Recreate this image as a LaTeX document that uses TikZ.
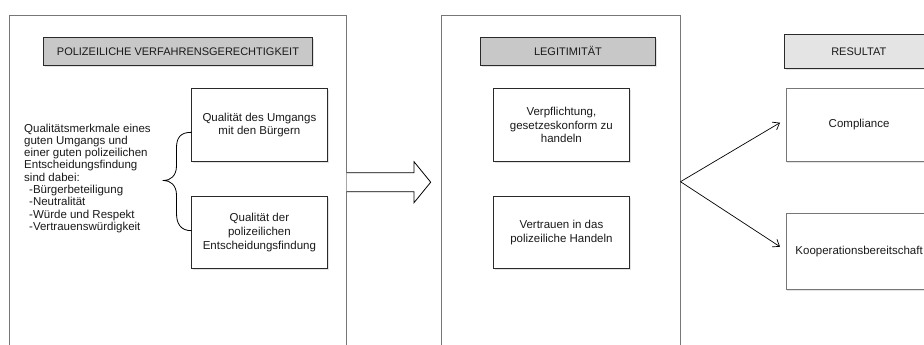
\documentclass[tikz,border=0pt]{standalone}
\usepackage{fontspec}
\setmainfont{Liberation Sans}
\usetikzlibrary{shadows,decorations.pathreplacing,arrows.meta}
\definecolor{panelc}{HTML}{777777}
\definecolor{titlefill}{HTML}{C8C8C8}
\definecolor{resfill}{HTML}{E4E4E4}
\definecolor{boxc}{HTML}{2A2A2A}
\definecolor{txt}{HTML}{1A1A1A}
\tikzset{
  panel/.style={draw=panelc, line width=0.9pt},
  shad/.style={drop shadow={opacity=0.22, shadow xshift=1.2pt, shadow yshift=-1.6pt}},
  titlebox/.style={draw=boxc, line width=0.9pt, fill=titlefill, shad, inner sep=0pt,
     font=\fontsize{11}{13}\selectfont, text=txt, anchor=north west},
  itembox/.style={draw=boxc, line width=0.8pt, fill=white, shad, inner sep=0pt, align=center,
     font=\fontsize{11.5}{13.7}\selectfont, text=txt, anchor=north west},
  resbox/.style={itembox, draw=panelc},
  conn/.style={draw=black, line width=0.7pt, -{To[length=6pt,width=9pt]}},
}
\begin{document}
\begin{tikzpicture}[x=1pt,y={(0pt,-1pt)}]
\useasboundingbox (0,0) rectangle (924,345);
\clip (0,0) rectangle (924,345);
\fill[white] (0,0) rectangle (924,345);
% panels
\draw[panel] (9,360) |- (346.5,15) -- (346.5,360);
\draw[panel] (441,360) |- (680.5,15) -- (680.5,360);
% titles
\node[titlebox, minimum width=269pt, minimum height=28pt] (t1) at (43,37) {POLIZEILICHE VERFAHRENSGERECHTIGKEIT};
\node[titlebox, minimum width=175pt, minimum height=28pt] (t2) at (480,37) {LEGITIMITÄT};
\node[titlebox, fill=resfill, minimum width=148pt, minimum height=34pt] (t3) at (784.3,34) {\hspace*{0pt}RESULTAT};
% left boxes
\node[itembox, minimum width=136pt, minimum height=73pt, font=\fontsize{11.5}{12.3}\selectfont] (b1) at (191,88) {Qualität des Umgangs\\mit den Bürgern};
\node[itembox, minimum width=136pt, minimum height=72pt] (b2) at (191,196) {Qualität der\\polizeilichen\\Entscheidungsfindung};
% middle boxes
\node[itembox, minimum width=136pt, minimum height=73pt] (m1) at (493,88) {Verpflichtung,\\gesetzeskonform zu\\handeln};
\node[itembox, minimum width=136pt, minimum height=72pt] (m2) at (493,196) {Vertrauen in das\\polizeiliche Handeln};
% result boxes
\node[resbox, minimum width=146pt, minimum height=72.5pt] (r1) at (785.7,88.3) {Compliance};
\node[resbox, minimum width=146pt, minimum height=76pt] (r2) at (785.7,213) {Kooperationsbereitschaft};
% left text
\node[anchor=north west, inner sep=0pt, align=left, text=txt, font=\fontsize{11.5}{12.3}\selectfont] (lt) at (24,123.5)
 {Qualitätsmerkmale eines\\guten Umgangs und\\einer guten polizeilichen\\Entscheidungsfindung\\sind dabei:\\
  \hspace*{5pt}-Bürgerbeteiligung\\\hspace*{5pt}-Neutralität\\\hspace*{5pt}-Würde und Respekt\\\hspace*{5pt}-Vertrauenswürdigkeit};
% brace
\coordinate (bt) at (191.7,132.3);
\coordinate (bb) at (191.7,230.7);
\coordinate (btip) at (164,180.5);
\draw[line width=0.8pt] (bt) .. controls (180,132.3) and (176.5,138) .. (176.5,148)
  -- (176.5,166) .. controls (176.5,176) and (170,180.5) .. (btip)
  .. controls (170,180.5) and (176.5,185) .. (176.5,195)
  -- (176.5,213) .. controls (176.5,223) and (180,230.7) .. (bb);
% block arrow
\coordinate (a0) at (346.5,172.7);
\draw[line width=0.8pt, fill=white] (a0) -- (414,172.7) -- (414,161.7) -- (430.7,182.2) -- (414,202.7) -- (414,191.7) -- (346.5,191.7);
% connectors
\coordinate (src) at (680.5,181.7);
\coordinate (e1) at (780,122.7);
\coordinate (e2) at (780,246.7);
\draw[line width=0.7pt, -{Straight Barb[length=6pt,width=9pt]}] (src) -- (e1);
\draw[line width=0.7pt, -{Straight Barb[length=6pt,width=9pt]}] (src) -- (e2);
\end{tikzpicture}
\end{document}
